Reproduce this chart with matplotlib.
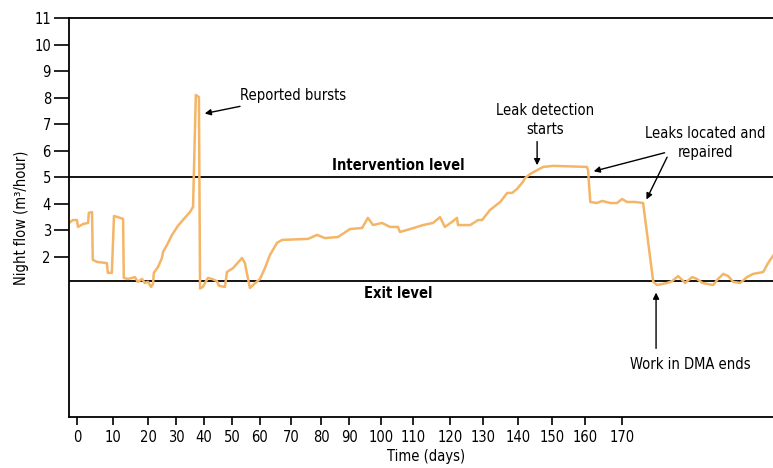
import numpy as np
import matplotlib
matplotlib.use("Agg")
import matplotlib.pyplot as plt

plt.rcParams['font.family'] = ['DejaVu Sans']
plt.rcParams['font.stretch'] = 'condensed'

# Night flow readings (days, m3/hour)
days = [-2.2, -1.1, 0, 0.3, 1.7, 3.1, 3.3, 4.2, 4.4, 5.6, 8.3, 8.6, 9.7, 10.3, 11.4, 12.9,
        13.1, 14.3, 16.3, 17.1, 18.3, 19.1, 20.0, 21.1, 21.8, 22.1, 23.6, 25.0, 25.4, 26.8,
        28.6, 30.7, 32.5, 35.0, 36.1, 37.1, 38.2, 38.6, 39.6, 41.4, 42.9, 44.6, 45.4, 47.5,
        48.2, 50.4, 53.6, 54.6, 56.4, 57.5, 60.0, 61.6, 63.2, 65.5, 67.1, 75.7, 78.7, 81.4,
        86.1, 90.3, 94.1, 95.9, 97.5, 100.3, 102.8, 105.3, 105.9, 109.1, 112.7, 115.4, 117.3,
        118.6, 120.6, 122.1, 122.4, 126.1, 128.5, 129.7, 132.0, 134.9, 136.9, 138.3, 139.7,
        141.2, 142.1, 143.5, 145.6, 147.4, 150.3, 160.5, 160.8, 161.4, 163.2, 164.6, 166.8,
        168.6, 170.0, 171.4, 173.7, 176.0, 178.9, 180.0, 182.9, 184.3, 186.0, 188.0, 190.0,
        191.4, 192.9, 196.0, 197.4, 198.9, 200.3, 201.7, 203.7, 205.7, 207.4, 210.3, 211.7,
        213.1]
flow = [3.28, 3.39, 3.39, 3.13, 3.24, 3.28, 3.66, 3.69, 1.89, 1.81, 1.77, 1.40, 1.40, 3.54,
        3.50, 3.43, 1.21, 1.17, 1.24, 1.06, 1.17, 1.02, 1.06, 0.87, 0.98, 1.40, 1.62, 1.96,
        2.19, 2.45, 2.83, 3.17, 3.39, 3.69, 3.88, 8.10, 8.02, 0.81, 0.87, 1.21, 1.17, 1.09,
        0.91, 0.87, 1.43, 1.58, 1.96, 1.77, 0.83, 0.94, 1.17, 1.58, 2.07, 2.53, 2.64, 2.68,
        2.83, 2.71, 2.75, 3.05, 3.09, 3.47, 3.20, 3.28, 3.13, 3.13, 2.94, 3.05, 3.20, 3.28,
        3.50, 3.13, 3.32, 3.47, 3.20, 3.20, 3.39, 3.39, 3.77, 4.07, 4.41, 4.41, 4.56, 4.79,
        4.97, 5.12, 5.27, 5.39, 5.43, 5.39, 5.27, 4.07, 4.03, 4.11, 4.03, 4.03, 4.18, 4.07,
        4.07, 4.03, 1.06, 0.94, 1.02, 1.09, 1.28, 1.02, 1.24, 1.17, 1.02, 0.94, 1.17, 1.36,
        1.28, 1.06, 1.02, 1.24, 1.36, 1.43, 1.77, 2.04]

intervention_level = 5.0
exit_level = 1.1

x_tick_labels = [0, 10, 20, 30, 40, 50, 60, 70, 80, 90, 100, 110, 120, 130, 140, 150, 160, 170]
y_ticks = [2, 3, 4, 5, 6, 7, 8, 9, 10, 11]

# the original day axis is hand drawn, tick spacing is uneven
tick_spacing = [77, 113, 148, 176, 204, 232, 260, 291, 321, 349, 381, 413, 450, 483, 518,
                552, 585, 622]
scale_days = [-100] + x_tick_labels + [400]
scale_pos = [77 - 360] + tick_spacing + [622 + 230 * 3.5]


def fwd(x):
    return np.interp(x, scale_days, scale_pos)


def inv(p):
    return np.interp(p, scale_pos, scale_days)


fig = plt.figure(figsize=(7.73, 4.68), dpi=100)
ax = fig.add_axes([69 / 773, 51 / 468, 704 / 773, 399 / 468])
ax.set_xscale('function', functions=(fwd, inv))
ax.set_xlim(-2.2, 213.1)
ax.set_ylim(-4.03, 11)

ax.axhline(intervention_level, color='black', lw=1.3, zorder=1)
ax.axhline(exit_level, color='black', lw=1.3, zorder=1)
ax.plot(days, flow, color='#f5b567', lw=1.8, zorder=2)

ax.spines['right'].set_visible(False)
for s in ['left', 'top', 'bottom']:
    ax.spines[s].set_linewidth(1.3)

ax.set_xticks(x_tick_labels)
ax.set_xticklabels([str(t) for t in x_tick_labels])
ax.set_yticks(y_ticks)
ax.tick_params(axis='y', length=11, width=1.2, labelsize=10.5, pad=2)
ax.tick_params(axis='x', length=6, width=1.2, labelsize=10.5, pad=3)
ax.minorticks_off()

ax.set_ylabel('Night flow (m³/hour)', fontsize=10.5, labelpad=4)
ax.set_xlabel('Time (days)', fontsize=10.5)
ax.xaxis.set_label_coords(0.507, -0.08)

ax.text(105.3, 5.43, 'Intervention level', ha='center', va='center', fontsize=10.5,
        fontweight='bold')
ax.text(105.3, 0.64, 'Exit level', ha='center', va='center', fontsize=10.5,
        fontweight='bold')

arrow = dict(arrowstyle='-|>', color='black', lw=1, mutation_scale=9)
ax.annotate('Reported bursts', xy=(39.3, 7.38), xytext=(52.9, 8.08), ha='left',
            va='center', fontsize=10.5, arrowprops=arrow)
ax.text(147.9, 7.15, 'Leak detection\nstarts', ha='center', va='center', fontsize=10.5,
        linespacing=1.35)
ax.annotate('', xy=(145.6, 5.35), xytext=(145.6, 6.45), arrowprops=arrow)
ax.text(193.7, 6.29, 'Leaks located and\nrepaired', ha='center', va='center',
        fontsize=10.5, linespacing=1.35)
ax.annotate('', xy=(161.6, 5.2), xytext=(182.9, 5.95), arrowprops=arrow)
ax.annotate('', xy=(176.6, 4.07), xytext=(183.2, 5.85), arrowprops=arrow)
ax.text(189.4, -2.07, 'Work in DMA ends', ha='center', va='center', fontsize=10.5)
ax.annotate('', xy=(179.7, 0.76), xytext=(179.7, -1.55), arrowprops=arrow)

fig.savefig('out.png', dpi=100)
